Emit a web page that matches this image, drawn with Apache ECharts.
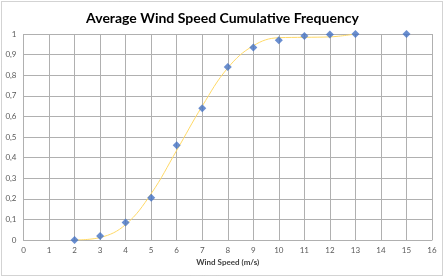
<!DOCTYPE html>
<html><head><meta charset="utf-8">
<script src="https://cdn.jsdelivr.net/npm/echarts@6/dist/echarts.min.js"></script>
<style>html,body{margin:0;padding:0;background:#fff}#c{width:445px;height:278px}</style>
</head><body><div id="c"></div>
<script>
const speeds = [2, 3, 4, 5, 6, 7, 8, 9, 10, 11, 12, 13, 15];
const cumFreq = [0, 0.02, 0.085, 0.205, 0.46, 0.64, 0.84, 0.935, 0.97, 0.99, 0.998, 1, 1];
const fitX = [2, 3, 4, 5, 6, 7, 8, 9, 10, 11, 12, 13];
const fitY = [0, 0.012, 0.075, 0.225, 0.435, 0.65, 0.835, 0.943, 0.982, 0.984, 0.986, 1];
const chart = echarts.init(document.getElementById('c'));
const font = 'Lato, Open Sans, sans-serif';
chart.setOption({
  animation: false,
  title: {text: 'Average Wind Speed Cumulative Frequency', left: 'center', top: 6,
    textStyle: {fontFamily: font, fontSize: 14, fontWeight: 'bold', color: '#000'}},
  graphic: [{type: 'rect', shape: {x: 1.5, y: 1.5, width: 441, height: 274},
    style: {fill: 'none', stroke: '#a6a6a6', lineWidth: 1, lineDash: [1, 1]}}],
  grid: {left: 23.5, right: 13, top: 34, bottom: 38},
  xAxis: {type: 'value', min: 0, max: 16, interval: 1,
    name: 'Wind Speed (m/s)', nameLocation: 'middle', nameGap: 18,
    nameTextStyle: {fontFamily: font, fontSize: 8, fontWeight: 'bold', color: '#404040'},
    axisLine: {show: true, lineStyle: {color: '#b0b0b0'}}, axisTick: {show: false},
    axisLabel: {fontFamily: font, fontSize: 8, color: '#595959', margin: 6},
    splitLine: {show: true, lineStyle: {color: '#b0b0b0'}}},
  yAxis: {type: 'value', min: 0, max: 1, interval: 0.1,
    axisLine: {show: false}, axisTick: {show: false},
    axisLabel: {fontFamily: font, fontSize: 8, color: '#595959', margin: 7,
      formatter: v => String(Math.round(v * 10) / 10).replace('.', ',')},
    splitLine: {show: true, lineStyle: {color: '#b0b0b0'}}},
  series: [
    {type: 'line', data: fitX.map((x, i) => [x, fitY[i]]), smooth: 0.4, showSymbol: false,
      lineStyle: {color: '#ffd966', width: 1}, z: 2},
    {type: 'scatter', data: speeds.map((x, i) => [x, cumFreq[i]]), symbol: 'diamond', symbolSize: 8,
      itemStyle: {color: '#4472c4'}, z: 3}
  ]
});
</script></body></html>
